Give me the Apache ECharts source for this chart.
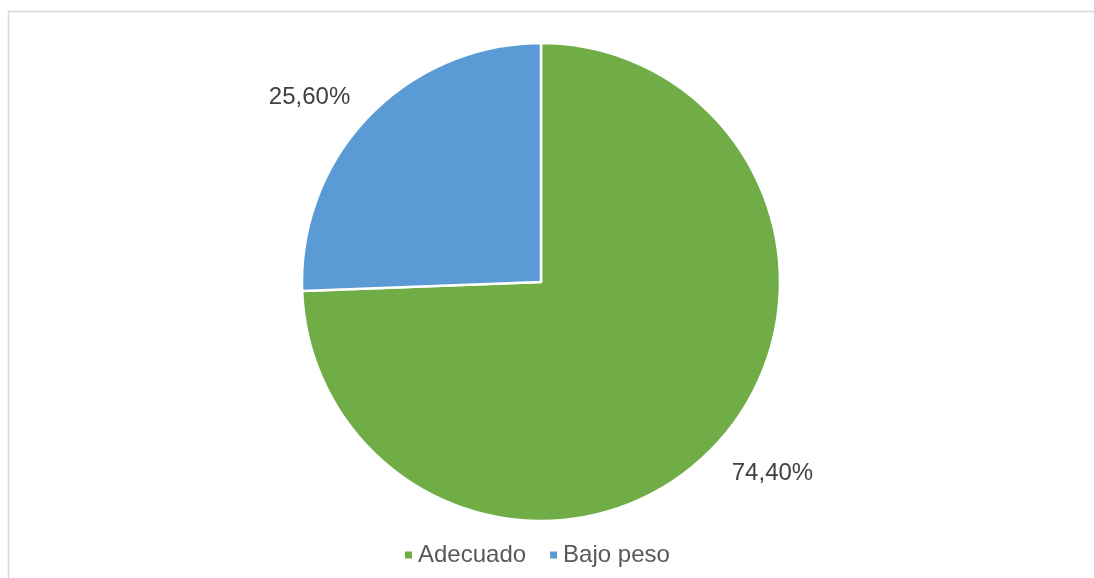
<!DOCTYPE html>
<html>
<head>
<meta charset="utf-8">
<script src="https://cdn.jsdelivr.net/npm/echarts@6/dist/echarts.min.js"></script>
<style>
  html, body { margin: 0; padding: 0; background: #ffffff; }
  #chart { width: 1094px; height: 578px; }
</style>
</head>
<body>
<div id="chart"></div>
<script>
// Categories, values (percent) and colours of the pie
const categories = ['Adecuado', 'Bajo peso'];
const values = [74.4, 25.6];
const colors = ['#70AD47', '#5B9BD5'];

const fontFamily = '"Liberation Sans", Arial, Helvetica, sans-serif';
const centerX = 541;

const chart = echarts.init(document.getElementById('chart'), null, { renderer: 'canvas' });

chart.setOption({
  backgroundColor: '#ffffff',
  animation: false,
  color: colors,
  graphic: [{
    type: 'rect',
    shape: { x: 8.5, y: 11.5, width: 1200, height: 700 },
    style: { fill: 'none', stroke: '#d9d9d9', lineWidth: 1.5 },
    silent: true
  }],
  legend: {
    data: categories,
    left: 398,
    top: 538,
    icon: 'rect',
    itemWidth: 9,
    itemHeight: 9,
    itemGap: 22,
    textStyle: { fontSize: 24, color: '#595959', fontFamily: fontFamily }
  },
  series: [{
    type: 'pie',
    center: [centerX, 282],
    radius: [0, 239],
    startAngle: 90,
    clockwise: true,
    data: categories.map((name, i) => ({ name: name, value: values[i] })),
    itemStyle: { borderColor: '#ffffff', borderWidth: 2.5 },
    label: {
      show: true,
      position: 'outside',
      formatter: p => p.value.toFixed(2).replace('.', ',') + '%',
      fontSize: 24,
      color: '#404040',
      fontFamily: fontFamily
    },
    labelLine: { show: false, length: 30, length2: 0 },
    // pull the outside labels slightly in toward the pie
    labelLayout: p => (p.labelRect.x < centerX ? { dx: 8, dy: 2 } : { dx: -8, dy: 5 }),
    emphasis: { disabled: true }
  }]
});
</script>
</body>
</html>
